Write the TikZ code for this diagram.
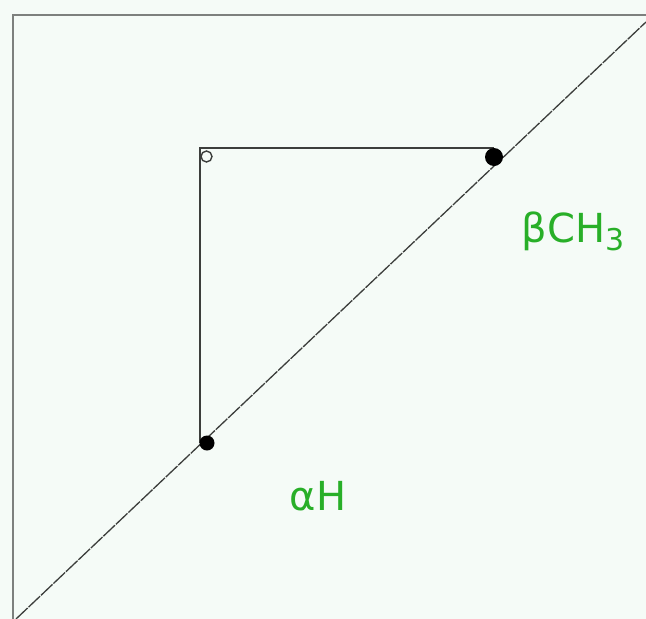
\documentclass[tikz,border=0pt]{standalone}
\usepackage{fontspec}
\setmainfont{DejaVu Sans}
\definecolor{bgmint}{RGB}{245,251,247}
\definecolor{framegray}{RGB}{125,128,126}
\definecolor{linegray}{RGB}{60,62,60}
\definecolor{labelgreen}{RGB}{40,175,40}
\tikzset{
  frameline/.style={draw=framegray,line width=2pt},
  diagline/.style={draw=linegray,line width=1.3pt,dash pattern=on 16pt off 1.2pt},
  legline/.style={draw=linegray,line width=1.4pt},
  bigdot/.style={circle,fill=black,inner sep=0pt,minimum size=#1},
  lbl/.style={text=labelgreen,font=\fontsize{40}{44}\selectfont,inner sep=0pt}
}
\begin{document}
\begin{tikzpicture}[x=1pt,y=-1pt]
\fill[bgmint] (0,0) rectangle (646,619);
\useasboundingbox (0,0) rectangle (646,619);
% frame
\coordinate (ftr) at (646,15);
\coordinate (ftl) at (13,15);
\coordinate (fbl) at (13,619);
\draw[frameline] (ftr) -- (ftl) -- (fbl);
% diagonal
\coordinate (dbl) at (16,619);
\coordinate (dtr) at (646,22);
\draw[diagline] (dbl) -- (dtr);
% right-angle legs
\coordinate (corner) at (200,148);
\coordinate (bcorner) at (494,148);
\coordinate (acorner) at (200,443);
\draw[legline] (bcorner) -- (corner) -- (acorner);
% points
\node[bigdot=18pt] (b) at (494,157) {};
\node[bigdot=15pt] (a) at (207,443) {};
\node[circle,draw=linegray,line width=1.4pt,minimum size=11pt,inner sep=0pt] (rc) at (206.5,156.5) {};
% labels
\node[lbl] (lb) at (573,231) {β\kern1pt CH\raisebox{-8pt}{\fontsize{30}{32}\selectfont 3}};
\node[lbl] (la) at (318,496) {αH};
\end{tikzpicture}
\end{document}
